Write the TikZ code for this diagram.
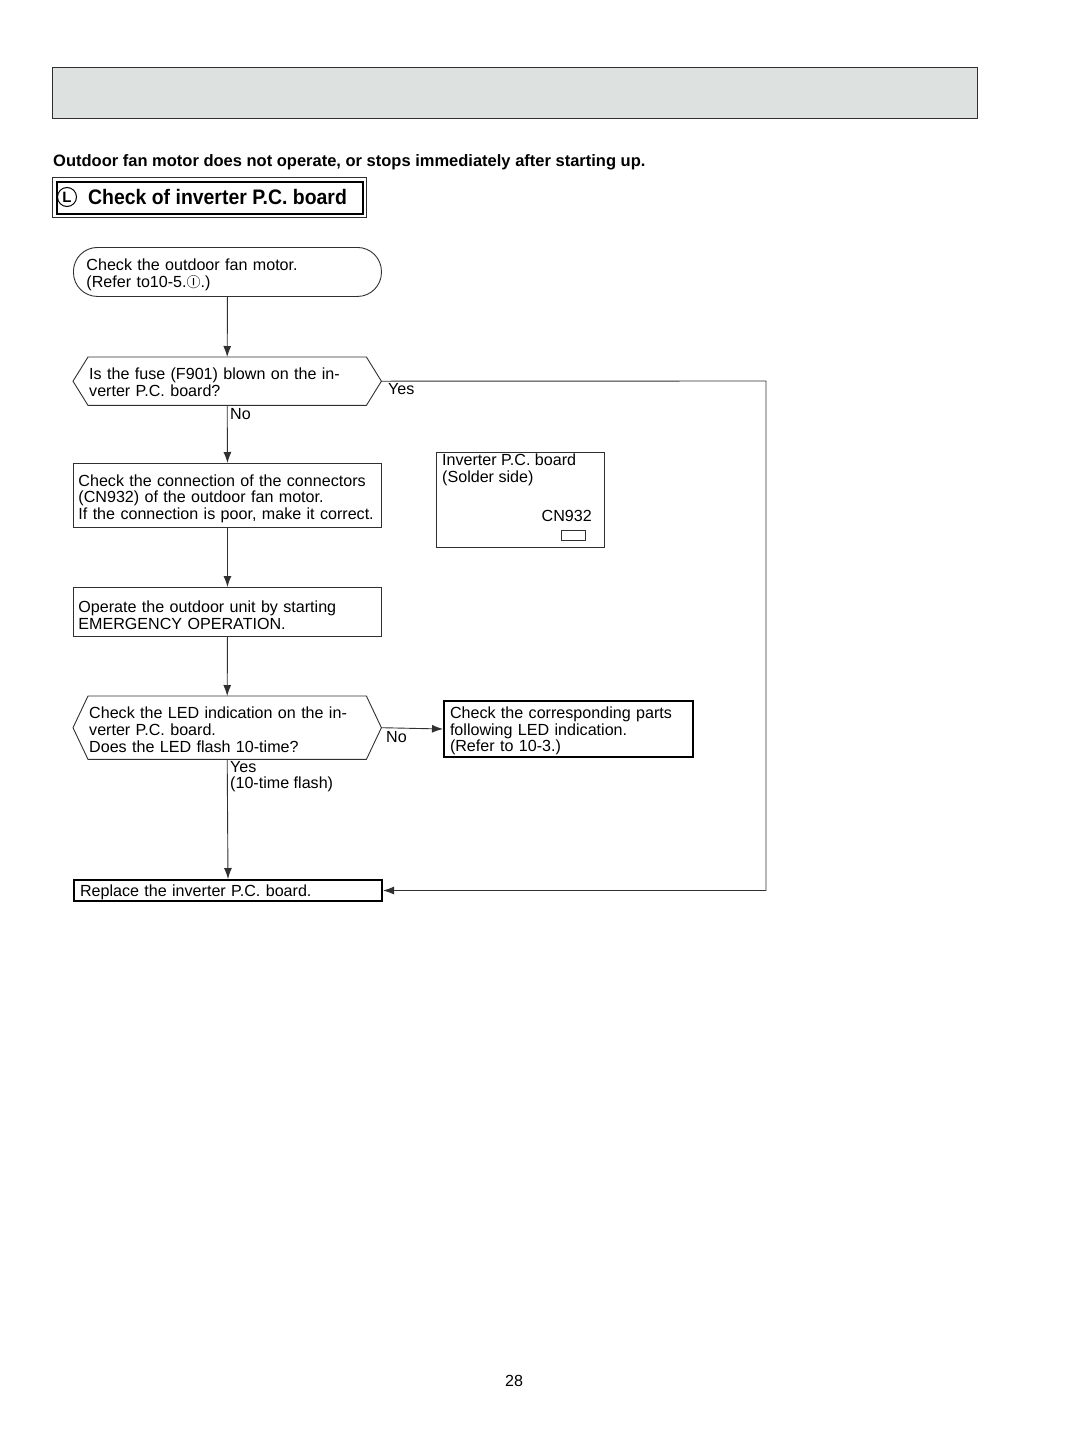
\documentclass[tikz,border=0pt]{standalone}
\usepackage{fontspec}
\setmainfont{Liberation Sans}
\newfontfamily\symfont{Noto Sans CJK JP}
\usetikzlibrary{arrows.meta}
\definecolor{hdrgray}{HTML}{DDE1E0}
\definecolor{linegray}{HTML}{303030}
\tikzset{
  txt/.style={font=\fontsize{16.1}{16.6}\selectfont, text=black},
  topstrut/.style={execute at begin node={\rule{0pt}{#1}}},
  flowbox/.style={txt, draw=linegray, line width=0.9pt, rectangle, anchor=north west, align=left, inner ysep=0pt,
     topstrut=17.7pt},
  thickbox/.style={txt, rectangle, anchor=north west, align=left, inner ysep=0pt, line width=2pt, draw=black,
     topstrut=15.7pt},
  termbox/.style={flowbox, rounded corners=24pt},
  decbox/.style={txt, rectangle, anchor=north west, align=left, inner ysep=0pt, inner xsep=16pt},
  hexline/.style={draw=linegray, line width=0.9pt},
  conn/.style={draw=linegray, line width=0.9pt},
  arr/.style={conn, -{Latex[length=11pt,width=8pt]}},
  lbl/.style={txt, inner sep=0pt},
}
\newcommand{\hexagon}[1]{%
  \draw[hexline] (#1.west) -- ([xshift=15pt]#1.north west) -- ([xshift=-15pt]#1.north east)
    -- (#1.east) -- ([xshift=-15pt]#1.south east) -- ([xshift=15pt]#1.south west) -- cycle;}
\begin{document}
\begin{tikzpicture}[x=1pt,y=-1pt]
\useasboundingbox (0,0) rectangle (1080,1440);
% header band
\node[draw=linegray, fill=hdrgray, line width=0.9pt, minimum width=925pt, minimum height=51pt, anchor=north west, inner sep=0pt] (hdr) at (52,67) {};
% subtitle
\node[anchor=west, inner sep=0pt, font=\fontsize{16.5}{17}\selectfont\bfseries] (sub) at (53,162.5)
  {Outdoor fan motor does not operate, or stops immediately after starting up.};
% title box (double frame)
\node[draw=linegray, line width=0.9pt, minimum width=314pt, minimum height=40pt, anchor=north west, inner sep=0pt] (tout) at (52,177) {};
\node[draw=black, line width=1.6pt, minimum width=306pt, minimum height=32pt, anchor=north west, inner sep=0pt] (tin) at (56,181) {};
\node[draw=black, circle, line width=1pt, minimum size=19pt, inner sep=0pt, font=\fontsize{15}{15}\selectfont\bfseries] (circL) at (67,197) {L};
\node[anchor=west, inner sep=0pt, font=\fontsize{21}{21}\selectfont\bfseries] (ttl) at (88,197)
  {\scalebox{0.925}[1]{Check of inverter P.C. board}};
% flow nodes
\node[termbox, minimum width=308pt, minimum height=49pt, text width=282pt, inner xsep=13pt] (start) at (73,247)
  {Check the outdoor fan motor.\\(Refer to10-5.{\symfont\fontsize{14}{14}\selectfont Ⓘ}.)};
\node[decbox, minimum width=308pt, minimum height=48pt, text width=276pt, topstrut=13.2pt] (d1) at (73,357)
  {Is the fuse (F901) blown on the in-\\verter P.C. board?};
\hexagon{d1}
\node[flowbox, minimum width=308pt, minimum height=64pt, text width=298pt, inner xsep=5pt] (b2) at (73,463)
  {Check the connection of the connectors\\(CN932) of the outdoor fan motor.\\If the connection is poor, make it correct.};
\node[flowbox, minimum width=308pt, minimum height=49pt, text width=298pt, inner xsep=5pt, topstrut=13.7pt] (b3) at (73,587)
  {Operate the outdoor unit by starting\\EMERGENCY OPERATION.};
\node[decbox, minimum width=308pt, minimum height=63pt, text width=276pt, topstrut=15.7pt] (d2) at (73,696)
  {Check the LED indication on the in-\\verter P.C. board.\\Does the LED flash 10-time?};
\hexagon{d2}
\node[thickbox, minimum width=249pt, minimum height=56pt, text width=237pt, inner xsep=6pt] (b4) at (443,700)
  {Check the corresponding parts\\following LED indication.\\(Refer to 10-3.)};
\node[thickbox, minimum width=308pt, minimum height=21pt, text width=296pt, inner xsep=6pt] (rep) at (73,879)
  {Replace the inverter P.C. board.};
% inverter board sketch
\node[draw=linegray, line width=0.9pt, minimum width=168pt, minimum height=95pt, anchor=north west, inner sep=0pt] (inv) at (436,452) {};
\node[lbl, anchor=north west, align=left] (invt) at ([xshift=6pt,yshift=-2pt]inv.north west) {Inverter P.C. board\\(Solder side)};
\node[lbl, anchor=east] (cnt) at (592,516) {CN932};
\node[draw=linegray, line width=0.9pt, minimum width=24pt, minimum height=10pt, anchor=north west, inner sep=0pt] (cn) at (561,530) {};
% connectors
\coordinate (yc) at (766,381);
\draw[arr] (start.south) -- (d1.north);
\draw[arr] (d1.east) -- (yc) |- (rep.east);
\draw[arr] (d1.south) -- (b2.north);
\draw[arr] (b2.south) -- (b3.north);
\draw[arr] (b3.south) -- (d2.north);
\draw[arr] (d2.east) -- (b4.west);
\draw[arr] (d2.south) -- (rep.north);
% labels
\node[lbl, anchor=west] (lyes1) at (388,389) {Yes};
\node[lbl, anchor=west] (lno1) at (230,414) {No};
\node[lbl, anchor=west] (lno2) at (386,737) {No};
\node[lbl, anchor=north west, align=left] (lyes2) at (230,761) {Yes\\(10-time flash)};
% page number
\node[lbl] (pg) at (514,1381) {28};
\end{tikzpicture}
\end{document}
